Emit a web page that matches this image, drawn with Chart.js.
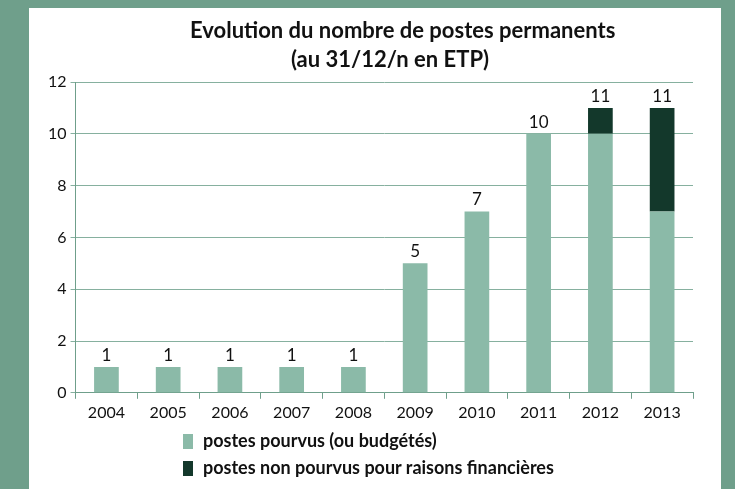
<!DOCTYPE html>
<html><head><meta charset="utf-8">
<script src="https://cdn.jsdelivr.net/npm/chart.js@4"></script>
<style>
html,body{margin:0;padding:0;width:735px;height:489px;overflow:hidden;background:#6f9f8b;}
#panel{position:absolute;left:29px;top:8px;width:692px;height:481px;background:#fff;}
#c{position:absolute;left:0;top:0;}
#title{position:absolute;left:161px;width:400px;top:7px;text-align:center;font-family:Lato,"Open Sans",sans-serif;font-weight:bold;font-size:22px;line-height:29px;color:#111;white-space:nowrap;}
.leg{position:absolute;left:154px;font-family:Lato,"Open Sans",sans-serif;font-weight:bold;font-size:18px;color:#111;white-space:nowrap;}
.leg span{display:inline-block;width:10px;height:15px;vertical-align:-2px;margin-right:10px;}
</style></head>
<body>
<div id="panel">
<canvas id="c" width="692" height="481"></canvas>
<div id="title"></div>
<div class="leg" id="l1" style="top:421px"></div>
<div class="leg" id="l2" style="top:448px"></div>
</div>
<script>
const categories = ["2004","2005","2006","2007","2008","2009","2010","2011","2012","2013"];
const pourvus = [1,1,1,1,1,5,7,10,10,7];
const nonPourvus = [0,0,0,0,0,0,0,0,1,4];
const totals = [1,1,1,1,1,5,7,10,11,11];
const seriesNames = ["postes pourvus (ou budgétés)","postes non pourvus pour raisons financières"];
const seriesColors = ["#8bbaa8","#13382b"];
const titleLines = ["Evolution du nombre de postes permanents","(au 31/12/n en ETP)"];

document.getElementById('title').innerHTML = titleLines.join('<br>');
['l1','l2'].forEach((id,i)=>{
  const el = document.getElementById(id);
  const sw = document.createElement('span'); sw.style.background = seriesColors[i];
  el.appendChild(sw); el.appendChild(document.createTextNode(seriesNames[i]));
});

const totalsPlugin = {
  id:'totals',
  afterDatasetsDraw(chart){
    const ctx = chart.ctx;
    const meta = chart.getDatasetMeta(0);
    const y = chart.scales.y;
    ctx.save();
    ctx.font = '17px Lato, "Open Sans", sans-serif';
    ctx.fillStyle = '#111';
    ctx.textAlign = 'center';
    ctx.textBaseline = 'bottom';
    meta.data.forEach((bar,i)=>{
      ctx.fillText(String(totals[i]), bar.x, y.getPixelForValue(totals[i]) - 3);
    });
    ctx.restore();
  }
};

new Chart(document.getElementById('c'), {
  type:'bar',
  data:{
    labels:categories,
    datasets:[
      {label:seriesNames[0], data:pourvus, backgroundColor:seriesColors[0], barPercentage:0.4, categoryPercentage:1},
      {label:seriesNames[1], data:nonPourvus, backgroundColor:seriesColors[1], barPercentage:0.4, categoryPercentage:1}
    ]
  },
  options:{
    responsive:false,
    animation:false,
    layout:{padding:{left:15,right:28,top:74,bottom:63}},
    plugins:{
      legend:{display:false},
      tooltip:{enabled:false},
      title:{display:false}
    },
    scales:{
      x:{stacked:true,
        grid:{display:true,drawOnChartArea:false,drawTicks:true,tickLength:6,color:'#6f9f8b',offset:true},
        border:{color:'#6f9f8b'},
        ticks:{color:'#111',font:{family:'Lato, "Open Sans", sans-serif',size:16},padding:4}},
      y:{stacked:true,min:0,max:12,
        ticks:{stepSize:2,color:'#111',font:{family:'Lato, "Open Sans", sans-serif',size:16},padding:4},
        grid:{color:'#86b09f',tickLength:5},
        border:{color:'#6f9f8b'}}
    }
  },
  plugins:[totalsPlugin]
});
</script>
</body></html>
